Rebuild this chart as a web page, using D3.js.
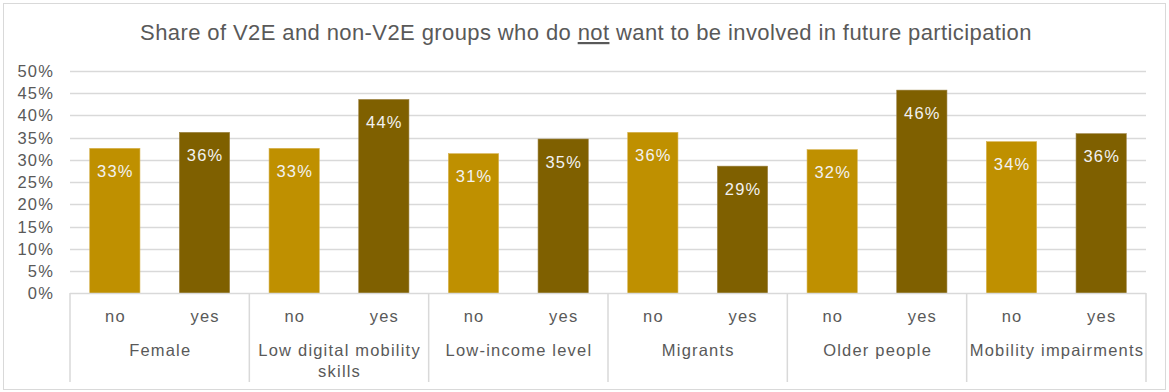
<!DOCTYPE html>
<html>
<head>
<meta charset="utf-8">
<script src="https://cdn.jsdelivr.net/npm/d3@7"></script>
<style>
  body { margin: 0; background: #fff; }
  text { font-family: "Liberation Sans", Arial, sans-serif; }
</style>
</head>
<body>
<div id="chart"></div>
<script>
const width = 1169;
const height = 392;

const groups = ["Female", "Low digital mobility skills", "Low-income level", "Migrants", "Older people", "Mobility impairments"];
const subgroups = ["no", "yes"];
const noValues = [32.6, 32.6, 31.4, 36.2, 32.3, 34.1];
const yesValues = [36.2, 43.6, 34.7, 28.6, 45.7, 35.9];
const yTicks = [0, 5, 10, 15, 20, 25, 30, 35, 40, 45, 50];

const colors = { no: "#BF9000", yes: "#7F6000" };
const margin = { top: 71, right: 23, bottom: 99, left: 70 };
const textColor = "#595959";
const gridColor = "#d9d9d9";
const labelSize = '16.5px';
const labelSpacing = '1.2px';

const data = groups.map((g, i) => ({ group: g, no: noValues[i], yes: yesValues[i] }));

const svg = d3.select('#chart')
  .append('svg')
  .attr('width', width)
  .attr('height', height);

// outer border
svg.append('rect')
  .attr('x', 3.5).attr('y', 3.5)
  .attr('width', width - 7).attr('height', height - 6)
  .attr('fill', '#fff')
  .attr('stroke', gridColor);

const x0 = d3.scaleBand()
  .domain(groups)
  .range([margin.left, width - margin.right]);

const x1 = d3.scaleBand()
  .domain(subgroups)
  .range([0, x0.bandwidth()])
  .paddingInner(0.44)
  .paddingOuter(0.22);

const y = d3.scaleLinear()
  .domain([0, 50])
  .range([293.3, margin.top]);

// title
const title = svg.append('text')
  .attr('x', 586)
  .attr('y', 40)
  .attr('text-anchor', 'middle')
  .style('font-size', '22px')
  .style('letter-spacing', '0.4px')
  .style('fill', textColor);
title.append('tspan').text('Share of V2E and non-V2E groups who do ');
title.append('tspan').text('not').style('text-decoration', 'underline');
title.append('tspan').text(' want to be involved in future participation');

// gridlines
svg.append('g')
  .selectAll('line')
  .data(yTicks.filter(d => d > 0))
  .enter()
  .append('line')
  .attr('x1', margin.left)
  .attr('x2', width - margin.right)
  .attr('y1', d => Math.round(y(d)) + 0.5)
  .attr('y2', d => Math.round(y(d)) + 0.5)
  .attr('stroke', gridColor)
  .attr('stroke-width', 1.3);

// y axis labels
svg.append('g')
  .selectAll('text')
  .data(yTicks)
  .enter()
  .append('text')
  .attr('x', 54)
  .attr('y', d => y(d))
  .attr('dy', '0.36em')
  .attr('text-anchor', 'end')
  .style('font-size', labelSize)
  .style('letter-spacing', labelSpacing)
  .style('fill', textColor)
  .text(d => d + '%');

// bars
const groupG = svg.append('g')
  .selectAll('g')
  .data(data)
  .enter()
  .append('g')
  .attr('transform', d => `translate(${x0(d.group)},0)`);

groupG.selectAll('rect')
  .data(d => subgroups.map(k => ({ key: k, value: d[k] })))
  .enter()
  .append('rect')
  .attr('x', d => x1(d.key))
  .attr('y', d => y(d.value))
  .attr('width', x1.bandwidth())
  .attr('height', d => y(0) - y(d.value))
  .attr('fill', d => colors[d.key])
  .attr('stroke', d => d.key === 'no' ? '#d6b04a' : '#9a8040')
  .attr('stroke-width', 0.6);

groupG.selectAll('text.val')
  .data(d => subgroups.map(k => ({ key: k, value: d[k] })))
  .enter()
  .append('text')
  .attr('class', 'val')
  .attr('x', d => x1(d.key) + x1.bandwidth() / 2 + 0.6)
  .attr('y', d => y(d.value) + 28.5)
  .attr('text-anchor', 'middle')
  .style('font-size', labelSize)
  .style('letter-spacing', labelSpacing)
  .style('fill', '#f2f2f2')
  .text(d => Math.round(d.value) + '%');

// category axis
const axisG = svg.append('g');
axisG.append('line')
  .attr('x1', margin.left).attr('x2', width - margin.right)
  .attr('y1', 293.5).attr('y2', 293.5)
  .attr('stroke', gridColor).attr('stroke-width', 1.5);

const dividers = groups.map(g => x0(g)).concat([x0.range()[1]]);
axisG.selectAll('line.div')
  .data(dividers)
  .enter()
  .append('line')
  .attr('class', 'div')
  .attr('x1', d => d).attr('x2', d => d)
  .attr('y1', 293).attr('y2', 382)
  .attr('stroke', gridColor).attr('stroke-width', 1.5);

groupG.selectAll('text.sub')
  .data(subgroups)
  .enter()
  .append('text')
  .attr('class', 'sub')
  .attr('x', d => x1(d) + x1.bandwidth() / 2 + 0.6)
  .attr('y', 322)
  .attr('text-anchor', 'middle')
  .style('font-size', labelSize)
  .style('letter-spacing', labelSpacing)
  .style('fill', textColor)
  .text(d => d);

// group labels, wrapped to the band width
groupG.append('text')
  .attr('x', x0.bandwidth() / 2 + 0.6)
  .attr('y', 356)
  .attr('text-anchor', 'middle')
  .style('font-size', labelSize)
  .style('letter-spacing', labelSpacing)
  .style('fill', textColor)
  .each(function(d) {
    const t = d3.select(this);
    const words = d.group.split(' ');
    let line = [];
    let tspan = t.append('tspan').attr('x', x0.bandwidth() / 2 + 0.6).attr('dy', 0);
    words.forEach(w => {
      line.push(w);
      tspan.text(line.join(' '));
      if (tspan.node().getComputedTextLength() > x0.bandwidth() - 4 && line.length > 1) {
        line.pop();
        tspan.text(line.join(' '));
        line = [w];
        tspan = t.append('tspan').attr('x', x0.bandwidth() / 2 + 0.6).attr('dy', '1.25em').text(w);
      }
    });
  });
</script>
</body>
</html>
